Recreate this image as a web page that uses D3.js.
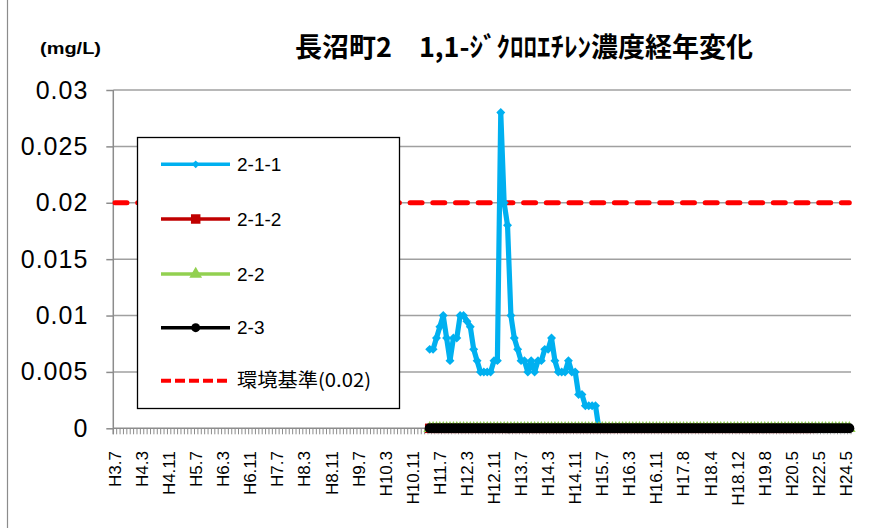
<!DOCTYPE html>
<html><head><meta charset="utf-8">
<script src="https://cdn.jsdelivr.net/npm/d3@7"></script>
<style>body{margin:0;background:#fff} svg{display:block}</style>
</head><body>
<svg id="chart" width="886" height="528"></svg>
<script>
// ---------- data ----------
const title = "長沼町2　1,1-ｼﾞｸﾛﾛｴﾁﾚﾝ濃度経年変化";
const yUnit = "(mg/L)";
const categoryCount = 218;          // sampling occasions along the category axis
const tickEvery = 8;                // one label every 8 categories
const tickLabels = ["H3.7","H4.3","H4.11","H5.7","H6.3","H6.11","H7.7","H8.3","H8.11","H9.7",
  "H10.3","H10.11","H11.7","H12.3","H12.11","H13.7","H14.3","H14.11","H15.7","H16.3",
  "H16.11","H17.8","H18.4","H18.12","H19.8","H20.5","H22.5","H24.5"];
const yTicks = [0, 0.005, 0.01, 0.015, 0.02, 0.025, 0.03];
const yTickLabels = ["0","0.005","0.01","0.015","0.02","0.025","0.03"];
const standardName = "環境基準(0.02)";
const standardValue = 0.02;

const seriesNames = ["2-1-1","2-1-2","2-2","2-3"];
const start211 = 93;
const values211 = [
  0.007,0.007,0.008,0.009,0.010,0.008,0.006,0.008,0.008,0.010,
  0.010,0.0095,0.009,0.007,0.006,0.005,0.005,0.005,0.005,0.006,
  0.006,0.028,0.020,0.018,0.010,0.008,0.007,0.006,0.006,0.005,
  0.006,0.005,0.006,0.006,0.007,0.007,0.008,0.006,0.005,0.005,
  0.005,0.006,0.005,0.005,0.003,0.003,0.002,0.002,0.002,0.002,
  0];
const start212 = 93;
const values212 = [
  0,0,0,0,0,0,0,0,0,0, 0,0,0,0,0,0,0,0,0,0, 0,0,0,0,0,0,0,0,0,0,
  0,0,0,0,0,0,0,0,0,0, 0,0,0,0,0,0,0,0,0,0, 0,0,0,0,0,0,0,0,0,0,
  0,0,0,0,0,0,0,0,0,0, 0,0,0,0,0,0,0,0,0,0, 0,0,0,0,0,0,0,0,0,0,
  0,0,0,0,0,0,0,0,0,0, 0,0,0,0,0,0,0,0,0,0, 0,0,0,0];
const start22 = 93;
const values22 = [
  0,0,0,0,0,0,0,0,0,0, 0,0,0,0,0,0,0,0,0,0, 0,0,0,0,0,0,0,0,0,0,
  0,0,0,0,0,0,0,0,0,0, 0,0,0,0,0,0,0,0,0,0, 0,0,0,0,0,0,0,0,0,0,
  0,0,0,0,0,0,0,0,0,0, 0,0,0,0,0,0,0,0,0,0, 0,0,0,0,0,0,0,0,0,0,
  0,0,0,0,0,0,0,0,0,0, 0,0,0,0,0,0,0,0,0,0, 0,0,0,0,0,0,0,0,0,0,
  0,0,0,0,0];
const start23 = 93;
const values23 = [
  0,0,0,0,0,0,0,0,0,0, 0,0,0,0,0,0,0,0,0,0, 0,0,0,0,0,0,0,0,0,0,
  0,0,0,0,0,0,0,0,0,0, 0,0,0,0,0,0,0,0,0,0, 0,0,0,0,0,0,0,0,0,0,
  0,0,0,0,0,0,0,0,0,0, 0,0,0,0,0,0,0,0,0,0, 0,0,0,0,0,0,0,0,0,0,
  0,0,0,0,0,0,0,0,0,0, 0,0,0,0,0,0,0,0,0,0, 0,0,0,0,0,0,0,0,0,0,
  0,0,0,0,0];

// ---------- layout ----------
const svg = d3.select("#chart");
const plot = {left: 113.3, right: 851, top: 90, bottom: 428.3};
const latin = "'Liberation Sans', Arial, sans-serif";
const cjk = "'Noto Sans CJK JP', 'Noto Sans CJK SC', sans-serif";
const gridColor = "#a0a0a0", axisColor = "#8c8c8c";

const x = d3.scaleBand().domain(d3.range(categoryCount)).range([plot.left, plot.right]).padding(0);
const cx = i => x(i) + x.bandwidth() / 2;
const y = d3.scaleLinear().domain([0, 0.03]).range([plot.bottom, plot.top]);

// outer frame edge
svg.append("line").attr("x1", 7.5).attr("x2", 7.5).attr("y1", 0).attr("y2", 528)
  .attr("stroke", "#8c8c8c").attr("stroke-width", 1.2);

// gridlines
svg.append("g").selectAll("line").data(yTicks.filter(d => d > 0)).join("line")
  .attr("x1", plot.left).attr("x2", plot.right)
  .attr("y1", d => y(d)).attr("y2", d => y(d))
  .attr("stroke", gridColor).attr("stroke-width", 1.5);

// y axis
const yAxis = svg.append("g").attr("transform", `translate(${plot.left},0)`)
  .call(d3.axisLeft(y).tickValues(yTicks).tickSize(7).tickSizeOuter(0).tickPadding(18)
    .tickFormat((d, i) => yTickLabels[i]));
yAxis.select(".domain").attr("stroke", axisColor).attr("stroke-width", 1.5)
  .attr("d", `M0,${plot.top}V${plot.bottom + 6}`);
yAxis.selectAll(".tick line").attr("stroke", axisColor).attr("stroke-width", 1.5);
yAxis.selectAll(".tick text").attr("font-family", latin).attr("font-size", 25)
  .attr("letter-spacing", 1).attr("fill", "#000");

// x axis line + category boundary ticks
svg.append("line").attr("x1", plot.left).attr("x2", plot.right)
  .attr("y1", plot.bottom).attr("y2", plot.bottom)
  .attr("stroke", axisColor).attr("stroke-width", 1.5);
svg.append("g").selectAll("line").data(d3.range(categoryCount + 1)).join("line")
  .attr("x1", i => plot.left + i * x.step()).attr("x2", i => plot.left + i * x.step())
  .attr("y1", plot.bottom).attr("y2", plot.bottom + 6)
  .attr("stroke", axisColor).attr("stroke-width", 1);

// x labels
svg.append("g").selectAll("text").data(tickLabels).join("text")
  .attr("transform", (d, i) => `translate(${cx(i * tickEvery)},451) rotate(-90)`)
  .attr("text-anchor", "end").attr("dy", "0.35em")
  .attr("font-family", latin).attr("font-size", 17).attr("fill", "#000")
  .text(d => d);

// standard line
const lineGen = d3.line().x(d => cx(d.i)).y(d => y(d.v));
svg.append("path")
  .attr("d", lineGen([{i: 0, v: standardValue}, {i: categoryCount - 1, v: standardValue}]))
  .attr("fill", "none").attr("stroke", "#ff0000").attr("stroke-width", 5)
  .attr("stroke-dasharray", "12,10.7").attr("stroke-linecap", "round");

function toPoints(start, vals) { return vals.map((v, k) => ({i: start + k, v})); }

const diamond = d3.symbol().type(d3.symbolSquare).size(40)();
const square = d3.symbol().type(d3.symbolSquare).size(90)();
const triangle = d3.symbol().type(d3.symbolTriangle).size(70)();
const circle = d3.symbol().type(d3.symbolCircle).size(Math.PI * 25)();

const seriesDefs = [
  {name: seriesNames[0], pts: toPoints(start211, values211), color: "#00b0f0", width: 5.2, marker: diamond, rot: 45},
  {name: seriesNames[1], pts: toPoints(start212, values212), color: "#c00000", width: 3.5, marker: square, rot: 0},
  {name: seriesNames[2], pts: toPoints(start22, values22), color: "#92d050", width: 3.5, marker: triangle, rot: 0},
  {name: seriesNames[3], pts: toPoints(start23, values23), color: "#000000", width: 3.5, marker: circle, rot: 0}
];

seriesDefs.forEach(s => {
  const g = svg.append("g");
  g.append("path").attr("d", lineGen(s.pts)).attr("fill", "none")
    .attr("stroke", s.color).attr("stroke-width", s.width)
    .attr("stroke-linejoin", "round").attr("stroke-linecap", "round");
  g.selectAll("path.m").data(s.pts).join("path").attr("class", "m")
    .attr("d", s.marker).attr("fill", s.color)
    .attr("transform", d => `translate(${cx(d.i)},${y(d.v)}) rotate(${s.rot})`);
});

// title and unit
svg.append("text").attr("x", 524).attr("y", 57).attr("text-anchor", "middle")
  .attr("font-family", cjk).attr("font-weight", "bold").attr("font-size", 27)
  .attr("fill", "#000").text(title);
svg.append("text").attr("x", 40).attr("y", 54)
  .attr("font-family", latin).attr("font-weight", "bold").attr("font-size", 17)
  .attr("textLength", 61).attr("lengthAdjust", "spacingAndGlyphs")
  .attr("fill", "#000").text(yUnit);

// legend
const legend = svg.append("g");
legend.append("rect").attr("x", 137.5).attr("y", 137.5).attr("width", 262).attr("height", 271)
  .attr("fill", "#fff").attr("stroke", "#000").attr("stroke-width", 1.3);
const rowsY = [164.3, 219, 274, 327.7, 380.7];
seriesDefs.forEach((s, k) => {
  const ly = rowsY[k];
  legend.append("line").attr("x1", 161).attr("x2", 230).attr("y1", ly).attr("y2", ly)
    .attr("stroke", s.color).attr("stroke-width", 3.5);
  const mk = k === 0 ? d3.symbol().type(d3.symbolSquare).size(30)() : (k === 3 ? d3.symbol().type(d3.symbolCircle).size(Math.PI * 20)() : s.marker);
  legend.append("path").attr("d", mk).attr("fill", s.color)
    .attr("transform", `translate(195.7,${ly}) rotate(${s.rot})`);
  legend.append("text").attr("x", 237).attr("y", ly).attr("dy", "0.35em")
    .attr("font-family", latin).attr("font-size", 19).attr("fill", "#000").text(s.name);
});
legend.append("line").attr("x1", 161).attr("x2", 227).attr("y1", rowsY[4]).attr("y2", rowsY[4])
  .attr("stroke", "#ff0000").attr("stroke-width", 4).attr("stroke-dasharray", "10,4");
legend.append("text").attr("x", 237).attr("y", rowsY[4]).attr("dy", "0.35em")
  .attr("font-family", cjk).attr("font-size", 19)
  .attr("textLength", 134).attr("lengthAdjust", "spacingAndGlyphs")
  .attr("fill", "#000").text(standardName);
</script>
</body></html>
